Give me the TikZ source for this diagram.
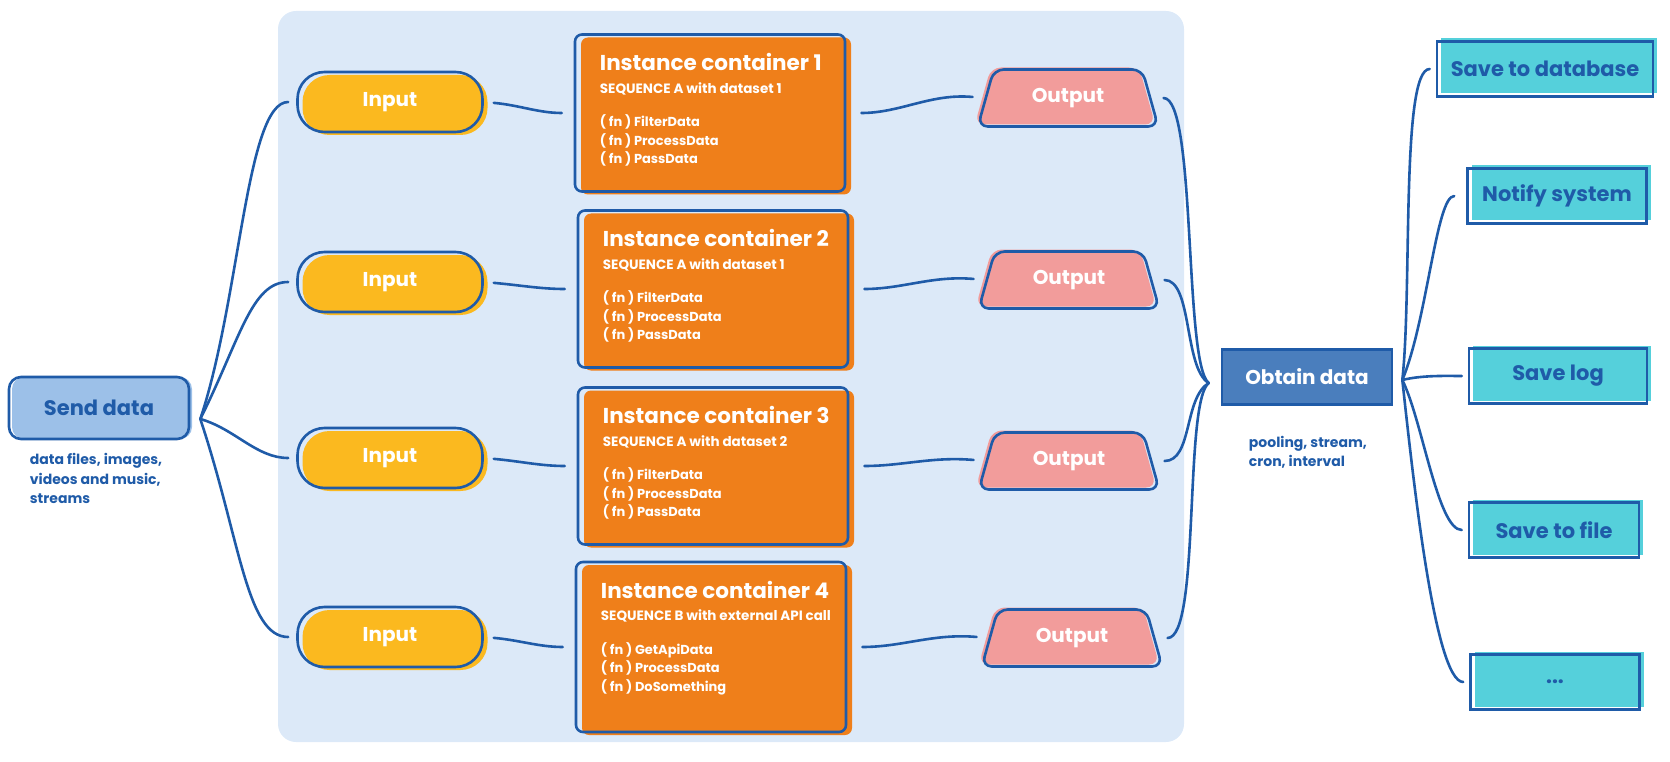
\documentclass[tikz,border=0pt]{standalone}
\usepackage{fontspec}
\setmainfont{Poppins}
\usetikzlibrary{positioning,shapes.geometric}

\definecolor{panelblue}{HTML}{DCE9F8}
\definecolor{lineblue}{HTML}{1F5BA8}
\definecolor{sendfill}{HTML}{9CC0E8}
\definecolor{inputfill}{HTML}{FBB91F}
\definecolor{contfill}{HTML}{EF7F1A}
\definecolor{outfill}{HTML}{F29C9B}
\definecolor{obtfill}{HTML}{4A7EBD}
\definecolor{sinkfill}{HTML}{55D0DB}

\tikzset{
  wire/.style={draw=lineblue, line width=2.6pt, line cap=round},
  sketch/.style 2 args={preaction={fill=#1, transform canvas={shift={#2}}}, draw=lineblue, line width=2.6pt},
  sendbox/.style={sketch={sendfill}{(3pt,0pt)}, rounded corners=12pt, minimum width=180pt, minimum height=62pt, text=lineblue, font=\bfseries\fontsize{21}{24}\selectfont},
  inbox/.style={sketch={inputfill}{(5pt,-3pt)}, rounded corners=27pt, minimum width=185pt, minimum height=60pt, text=white, font=\bfseries\fontsize{20}{24}\selectfont},
  contbox/.style={sketch={contfill}{(6pt,-3pt)}, rounded corners=7pt, minimum width=270pt, minimum height=157pt},
  ctitle/.style={inner sep=0pt, text=white, font=\bfseries\fontsize{21.5}{24}\selectfont},
  csub/.style={inner sep=0pt, text=white, font=\bfseries\fontsize{13.5}{16}\selectfont},
  cfn/.style={inner sep=0pt, align=left, text=white, font=\bfseries\fontsize{13}{18.5}\selectfont},
  outbox/.style={sketch={outfill}{(-3pt,2pt)}, trapezium, trapezium stretches=true, trapezium left angle=72, trapezium right angle=72, rounded corners=10pt, minimum width=182pt, minimum height=57pt, text=white, font=\bfseries\fontsize{20}{24}\selectfont},
  obtbox/.style={sketch={obtfill}{(1pt,2pt)}, minimum width=170pt, minimum height=55pt, text=white, font=\bfseries\fontsize{20}{24}\selectfont},
  sinkbox/.style={sketch={sinkfill}{(4pt,3pt)}, minimum height=55pt, text=lineblue, font=\bfseries\fontsize{21}{24}\selectfont},
  note/.style={inner sep=0pt, align=left, text=lineblue, font=\bfseries\fontsize{14}{19.5}\selectfont},
}

\begin{document}
\begin{tikzpicture}[x=1pt,y=1pt]
  \useasboundingbox (0,0) rectangle (1670,-762);
  % backdrop behind the instances
  \fill[panelblue, rounded corners=18pt] (278,-11) rectangle (1184,-742);

  % source
  \node[sendbox] (send) at (99,-408) {Send data};
  \node[note] (sendnote) [below right=13pt and 22pt of send.south west] {data files, images,\\videos and music,\\streams};
  \coordinate[below right=11pt and 10pt of send.east] (fanL);

  % inputs
  \node[inbox] (in1) at (390,-102) {Input};
  \node[inbox] (in2) at (390,-282) {Input};
  \node[inbox] (in3) at (390,-458) {Input};
  \node[inbox] (in4) at (390,-637) {Input};

  % instance containers
  \node[contbox] (c1) at (710,-113) {};
  \node[contbox] (c2) at (713,-289) {};
  \node[contbox] (c3) at (713,-466) {};
  \node[contbox, minimum height=170pt] (c4) at (711,-647) {};

  \node[ctitle] (c1t) [below right=20pt and 26pt of c1.north west] {Instance container 1};
  \node[csub] (c1s) [below right=11pt and 0pt of c1t.south west] {SEQUENCE A with dataset 1};
  \node[cfn] (c1f) [below right=20pt and 0pt of c1s.south west] {( fn ) FilterData\\( fn ) ProcessData\\( fn ) PassData};

  \node[ctitle] (c2t) [below right=20pt and 26pt of c2.north west] {Instance container 2};
  \node[csub] (c2s) [below right=11pt and 0pt of c2t.south west] {SEQUENCE A with dataset 1};
  \node[cfn] (c2f) [below right=20pt and 0pt of c2s.south west] {( fn ) FilterData\\( fn ) ProcessData\\( fn ) PassData};

  \node[ctitle] (c3t) [below right=20pt and 26pt of c3.north west] {Instance container 3};
  \node[csub] (c3s) [below right=11pt and 0pt of c3t.south west] {SEQUENCE A with dataset 2};
  \node[cfn] (c3f) [below right=20pt and 0pt of c3s.south west] {( fn ) FilterData\\( fn ) ProcessData\\( fn ) PassData};

  \node[ctitle] (c4t) [below right=20pt and 26pt of c4.north west] {Instance container 4};
  \node[csub] (c4s) [below right=11pt and 0pt of c4t.south west] {SEQUENCE B with external API call};
  \node[cfn] (c4f) [below right=20pt and 0pt of c4s.south west] {( fn ) GetApiData\\( fn ) ProcessData\\( fn ) DoSomething};

  % outputs
  \node[outbox] (out1) at (1068,-98) {Output};
  \node[outbox] (out2) at (1069,-280) {Output};
  \node[outbox] (out3) at (1069,-461) {Output};
  \node[outbox] (out4) at (1072,-638) {Output};

  % collector
  \node[obtbox] (obt) at (1307,-377) {Obtain data};
  \node[note] (obtnote) [below right=30pt and 28pt of obt.south west] {pooling, stream,\\cron, interval};
  \coordinate[below left=6pt and 12pt of obt.west] (fanM);
  \coordinate[below right=3pt and 9pt of obt.east] (fanR);

  % sinks
  \node[sinkbox, minimum width=216pt] (db)   at (1545,-69)  {Save to database};
  \node[sinkbox, minimum width=179pt] (nfy)  at (1557,-196) {Notify system};
  \node[sinkbox, minimum width=178pt] (log)  at (1558,-376) {Save log};
  \node[sinkbox, minimum width=170pt] (file) at (1554,-530) {Save to file};
  \node[sinkbox, minimum width=169pt] (more) at (1555,-682) {...};

  % send -> inputs
  \draw[wire, shorten >=8pt] (fanL) .. controls +(40,120) and +(-50,0) .. (in1.west);
  \draw[wire, shorten >=8pt] (fanL) .. controls +(40,80) and +(-45,0) .. (in2.west);
  \draw[wire, shorten >=8pt] (fanL) .. controls +(35,-10) and +(-40,0) .. (in3.west);
  \draw[wire, shorten >=8pt] (fanL) .. controls +(40,-120) and +(-50,0) .. (in4.west);

  % inputs -> containers -> outputs
  \draw[wire, shorten <=10pt, shorten >=12pt] (in1.east) to[out=-5,in=180] (c1.west);
  \draw[wire, shorten <=10pt, shorten >=12pt] (in2.east) to[out=-5,in=180] (c2.west);
  \draw[wire, shorten <=10pt, shorten >=12pt] (in3.east) to[out=-5,in=180] (c3.west);
  \draw[wire, shorten <=10pt, shorten >=12pt] (in4.east) to[out=-5,in=180] (c4.west);
  \draw[wire, shorten <=15pt, shorten >=12pt] (c1.east) to[out=0,in=175] (out1.west);
  \draw[wire, shorten <=15pt, shorten >=12pt] (c2.east) to[out=0,in=175] (out2.west);
  \draw[wire, shorten <=15pt, shorten >=12pt] (c3.east) to[out=0,in=175] (out3.west);
  \draw[wire, shorten <=15pt, shorten >=12pt] (c4.east) to[out=0,in=175] (out4.west);

  % outputs -> collector
  \draw[wire, shorten <=12pt] (out1.east) .. controls +(45,0) and +(-25,20) .. (fanM);
  \draw[wire, shorten <=12pt] (out2.east) .. controls +(40,0) and +(-25,15) .. (fanM);
  \draw[wire, shorten <=12pt] (out3.east) .. controls +(40,0) and +(-25,-15) .. (fanM);
  \draw[wire, shorten <=12pt] (out4.east) .. controls +(45,0) and +(-25,-20) .. (fanM);

  % collector -> sinks
  \draw[wire, shorten >=6pt] (fanR) .. controls +(10,90) and +(-35,0) .. (db.west);
  \draw[wire, shorten >=12pt] (fanR) .. controls +(25,60) and +(-30,0) .. (nfy.west);
  \draw[wire, shorten >=6pt] (fanR) .. controls +(20,5) and +(-20,0) .. (log.west);
  \draw[wire, shorten >=6pt] (fanR) .. controls +(20,-40) and +(-30,0) .. (file.west);
  \draw[wire, shorten >=6pt] (fanR) .. controls +(10,-90) and +(-35,0) .. (more.west);
\end{tikzpicture}
\end{document}
